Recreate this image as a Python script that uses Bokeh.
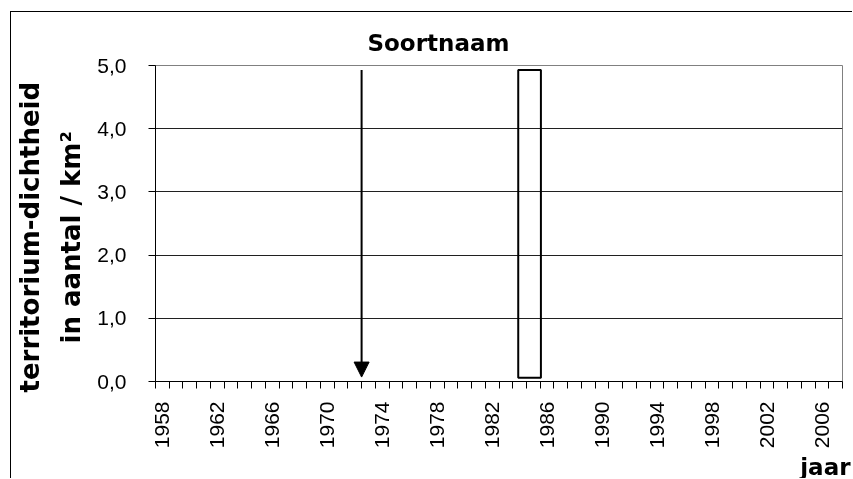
from math import pi
from bokeh.plotting import figure
from bokeh.models import FixedTicker, Title, Arrow, NormalHead, Range1d
from bokeh.embed import file_html
from bokeh.resources import INLINE

# ---- data ----
years_first = 1958
years_last = 2007
label_years = [1958, 1962, 1966, 1970, 1974, 1978, 1982, 1986, 1990, 1994, 1998, 2002, 2006]
y_ticks = [0, 1, 2, 3, 4, 5]
y_tick_labels = ["0,0", "1,0", "2,0", "3,0", "4,0", "5,0"]
bar_left = [1984.4]
bar_right = [1986.05]
bar_bottom = [0.06]
bar_top = [4.93]
arrow_x = 1973.0
arrow_y_start = 4.93
arrow_y_end = 0.07
title_text = "Soortnaam"
ylabel_line1 = "territorium-dichtheid"
ylabel_line2 = "in aantal / km²"
xlabel_text = "jaar"

TICK_FONT = "Liberation Sans"
BOLD_FONT = "DejaVu Sans"

p = figure(width=842, height=467, output_backend="svg", toolbar_location=None,
           x_range=Range1d(years_first, years_last + 1), y_range=Range1d(0, 5),
           min_border_left=144, min_border_right=11, min_border_top=53, min_border_bottom=98)
p.styles = {"position": "fixed", "left": "10px", "top": "11px",
            "border-left": "1px solid #000", "border-top": "1px solid #000"}
p.title.visible = False
p.background_fill_color = "white"
p.border_fill_color = "white"
p.outline_line_color = "#808080"
p.outline_line_width = 1

# x axis: labels centred in each year slot, tick marks at year boundaries
xt = FixedTicker(ticks=[y + 0.5 for y in label_years],
                 minor_ticks=list(range(years_first, years_last + 2)))
xa = p.xaxis[0]
xa.ticker = xt
xa.major_label_overrides = {y + 0.5: str(y) for y in label_years}
xa.major_label_orientation = pi / 2
xa.major_tick_out = 0
xa.major_tick_in = 0
xa.minor_tick_out = 7
xa.minor_tick_in = 0
xa.minor_tick_line_color = "black"
xa.axis_line_color = "black"
xa.major_label_text_font = TICK_FONT
xa.major_label_text_font_size = "21px"
xa.major_label_text_color = "black"
xa.major_label_standoff = 13

ya = p.yaxis[0]
ya.ticker = FixedTicker(ticks=y_ticks)
ya.major_label_overrides = {t: l for t, l in zip(y_ticks, y_tick_labels)}
ya.major_tick_out = 7
ya.major_tick_in = 0
ya.minor_tick_out = 0
ya.minor_tick_in = 0
ya.axis_line_color = "black"
ya.major_tick_line_color = "black"
ya.major_label_text_font = TICK_FONT
ya.major_label_text_font_size = "21px"
ya.major_label_text_color = "black"
ya.major_label_standoff = 22

p.xgrid.visible = False
p.ygrid.ticker = FixedTicker(ticks=y_ticks)
p.ygrid.grid_line_color = "#202020"
p.ygrid.grid_line_width = 1

# hollow bar
p.quad(left=bar_left, right=bar_right, bottom=bar_bottom, top=bar_top,
       fill_color=None, line_color="black", line_width=2)

# arrow
p.add_layout(Arrow(x_start=arrow_x, y_start=arrow_y_start, x_end=arrow_x, y_end=arrow_y_end,
                   line_color="black", line_width=2,
                   end=NormalHead(size=15, fill_color="black", line_color="black", line_width=1)))

# texts as side-panel titles
p.add_layout(Title(text=title_text, align="left", offset=212, standoff=19,
                   text_font=BOLD_FONT, text_font_style="bold", text_font_size="23px",
                   text_color="black"), "above")
p.add_layout(Title(text=ylabel_line2, align="left", offset=38, standoff=17,
                   text_font=BOLD_FONT, text_font_style="bold", text_font_size="26px",
                   text_color="black"), "left")
p.add_layout(Title(text=ylabel_line1, align="left", offset=-11, standoff=2,
                   text_font=BOLD_FONT, text_font_style="bold", text_font_size="26px",
                   text_color="black"), "left")
p.add_layout(Title(text=xlabel_text, align="right", offset=-8, standoff=0,
                   text_font=BOLD_FONT, text_font_style="bold", text_font_size="23px",
                   text_color="black"), "below")

open("out.html", "w").write(file_html(p, INLINE))
